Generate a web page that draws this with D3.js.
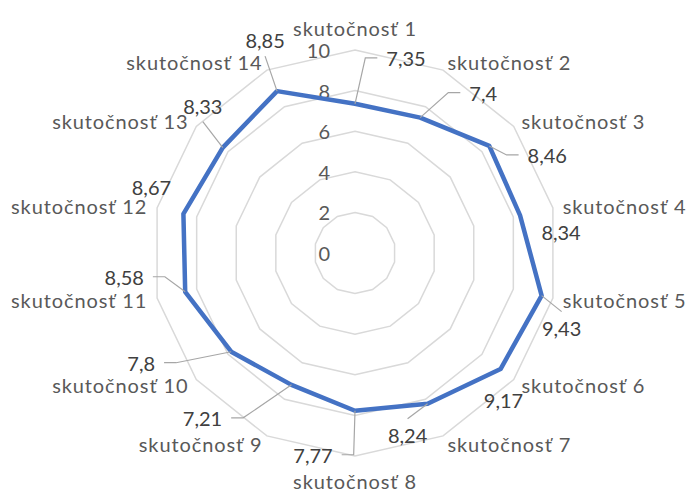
<!DOCTYPE html>
<html>
<head>
<meta charset="utf-8">
<script src="https://cdn.jsdelivr.net/npm/d3@7"></script>
<style>
  body { margin: 0; background: #fff; }
  text { font-family: Lato, "Open Sans", sans-serif; }
</style>
</head>
<body>
<svg id="chart" width="689" height="492"></svg>
<script>
const categories = ['skutočnosť 1', 'skutočnosť 2', 'skutočnosť 3', 'skutočnosť 4', 'skutočnosť 5',
                    'skutočnosť 6', 'skutočnosť 7', 'skutočnosť 8', 'skutočnosť 9', 'skutočnosť 10',
                    'skutočnosť 11', 'skutočnosť 12', 'skutočnosť 13', 'skutočnosť 14']
const values = [7.35, 7.4, 8.46, 8.34, 9.43, 9.17, 8.24, 7.77, 7.21, 7.8, 8.58, 8.67, 8.33, 8.85]
const tickValues = [0, 2, 4, 6, 8, 10]

// where the data labels were dragged to (px from the point), and which got a leader line
const labelOffsets = [[51, -46], [63, -25], [58, 9], [41, 17], [20, 32], [3, 31], [-20, 31],
                      [-42, 44], [-89, 33], [-90, 11], [-61, -15], [-32, -27], [-20, -42], [-12, -51]]
const hasLeader = [1, 1, 1, 0, 1, 0, 1, 1, 1, 1, 1, 0, 1, 1]

const cx = 355, cy = 253, radius = 203
const fontSize = 20

const svg = d3.select('#chart')
const g = svg.append('g').attr('transform', `translate(${cx},${cy})`)

const r = d3.scaleLinear().domain([0, 10]).range([0, radius])
const angle = d3.scaleLinear().domain([0, categories.length]).range([0, 2 * Math.PI])

const pos = (i, v) => [Math.sin(angle(i)) * r(v), -Math.cos(angle(i)) * r(v)]

// grid polygons
const gridLine = d3.lineRadial()
    .angle((d, i) => angle(i))
    .radius((d) => r(d))
    .curve(d3.curveLinearClosed)

g.selectAll('.grid')
    .data(tickValues.filter((t) => t > 0))
    .enter()
    .append('path')
    .attr('class', 'grid')
    .attr('d', (t) => gridLine(categories.map(() => t)))
    .attr('fill', 'none')
    .attr('stroke', '#d9d9d9')
    .attr('stroke-width', 1.5)

// tick labels
g.selectAll('.tick')
    .data(tickValues)
    .enter()
    .append('text')
    .attr('class', 'tick')
    .attr('x', -25)
    .attr('y', (t) => -r(t))
    .attr('text-anchor', 'end')
    .attr('dominant-baseline', 'central')
    .attr('fill', '#595959')
    .attr('font-size', fontSize)
    .text((t) => t)

// category labels
g.selectAll('.cat')
    .data(categories)
    .enter()
    .append('text')
    .attr('class', 'cat')
    .each(function (d, i) {
        const s = Math.sin(angle(i)), c = Math.cos(angle(i))
        const [vx, vy] = pos(i, 10)
        const el = d3.select(this)
        if (Math.abs(s) < 0.1) {
            el.attr('x', vx).attr('y', vy - c * (c > 0 ? 22 : 25)).attr('text-anchor', 'middle')
        } else {
            el.attr('x', vx + 10 * s).attr('y', vy - 9 * c).attr('text-anchor', s > 0 ? 'start' : 'end')
        }
    })
    .attr('dominant-baseline', 'central')
    .attr('fill', '#595959')
    .attr('font-size', fontSize)
    .attr('letter-spacing', 0.9)
    .text((d) => d)

// series line
g.append('path')
    .attr('d', gridLine(values))
    .attr('fill', 'none')
    .attr('stroke', '#4472c4')
    .attr('stroke-width', 4.5)
    .attr('stroke-linejoin', 'round')

// data labels
const leaderLayer = g.append('g')
const labels = g.selectAll('.val')
    .data(values)
    .enter()
    .append('text')
    .attr('class', 'val')
    .attr('x', (d, i) => pos(i, d)[0] + labelOffsets[i][0])
    .attr('y', (d, i) => pos(i, d)[1] + labelOffsets[i][1])
    .attr('text-anchor', 'middle')
    .attr('dominant-baseline', 'central')
    .attr('fill', '#404040')
    .attr('font-size', fontSize)
    .text((d) => String(d).replace('.', ','))

labels.each(function (d, i) {
    if (!hasLeader[i]) return
    const box = this.getBBox()
    const [px, py] = pos(i, d)
    const ly = py + labelOffsets[i][1]
    const lx = px + labelOffsets[i][0]
    let pts
    if (px < box.x - 2) {
        pts = [[box.x - 9, ly], [box.x - 21, ly], [px, py]]
    } else if (px > box.x + box.width + 2) {
        const e = box.x + box.width
        pts = [[e + 9, ly], [e + 21, ly], [px, py]]
    } else {
        pts = [[lx, py > ly ? ly + 16 : ly - 16], [px, py]]
    }
    leaderLayer.append('path')
        .attr('d', d3.line()(pts))
        .attr('fill', 'none')
        .attr('stroke', '#a6a6a6')
        .attr('stroke-width', 1.2)
})
</script>
</body>
</html>
